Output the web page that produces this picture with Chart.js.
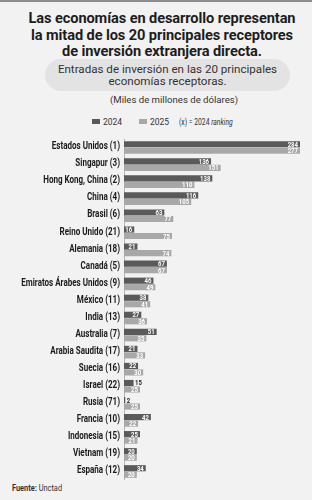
<!DOCTYPE html>
<html>
<head>
<meta charset="utf-8">
<script src="https://cdn.jsdelivr.net/npm/chart.js@4.4.1/dist/chart.umd.min.js"></script>
<style>
  html, body { margin: 0; padding: 0; }
  body {
    width: 312px; height: 500px; background: #f2f2f2; position: relative; overflow: hidden;
    font-family: Roboto, "Liberation Sans", sans-serif; color: #1d1d1d;
    border-top: 2px solid #8c8c8c; box-sizing: border-box;
  }
  .title {
    position: absolute; top: 8px; left: 0; width: 324px; text-align: center;
    font-weight: 700; font-size: 14.6px; line-height: 16.5px; letter-spacing: -0.1px;
  }
  .pill {
    position: absolute; left: 45px; top: 57px; width: 245px; height: 32px;
    background: #e3e3e3; border-radius: 16px; text-align: center;
    font-size: 11.6px; line-height: 11.5px; color: #333; padding-top: 5px; box-sizing: border-box;
  }
  .units {
    position: absolute; top: 92px; left: 110px; white-space: nowrap;
    font-size: 9.6px; color: #333;
  }
  .legend { position: absolute; top: 115px; left: 0; width: 312px; font-size: 8.5px; color: #333; }
  .legend span { position: absolute; white-space: nowrap; }
  .sw { display: inline-block; width: 8px; height: 5px; margin-right: 3px; vertical-align: 1px; }
  .cond { transform: scaleX(0.8); transform-origin: left center; }
  #wrap { position: absolute; left: 0; top: 137px; width: 312px; height: 341px; }
  .source { position: absolute; left: 12px; top: 481px; font-size: 8.5px; color: #333;
    transform: scaleX(0.87); transform-origin: left center; white-space: nowrap; }
</style>
</head>
<body>
<div class="title">Las economías en desarrollo representan<br>la mitad de los 20 principales receptores<br>de inversión extranjera directa.</div>
<div class="pill">Entradas de inversión en las 20 principales<br>economías receptoras.</div>
<div class="units">(Miles de millones de dólares)</div>
<div class="legend">
  <span style="left:92px"><i class="sw" style="background:#5a5a5a"></i>2024</span>
  <span style="left:139px"><i class="sw" style="background:#a8a8a8"></i>2025</span>
  <span class="cond" style="left:179px">(x) = 2024 <i>ranking</i></span>
</div>
<div id="wrap"><canvas id="chart"></canvas></div>
<div class="source"><b>Fuente:</b> Unctad</div>

<script>
const countries = [
  "Estados Unidos (1)", "Singapur (3)", "Hong Kong, China (2)", "China (4)", "Brasil (6)",
  "Reino Unido (21)", "Alemania (18)", "Canadá (5)", "Emiratos Árabes Unidos (9)", "México (11)",
  "India (13)", "Australia (7)", "Arabia Saudita (17)", "Suecia (16)", "Israel (22)",
  "Rusia (71)", "Francia (10)", "Indonesia (15)", "Vietnam (19)", "España (12)"
];
const inflows2024 = [284, 136, 138, 116, 63, 16, 21, 67, 46, 38, 27, 51, 21, 22, 15, 2, 42, 25, 20, 34];
const inflows2025 = [277, 151, 110, 105, 77, 75, 74, 67, 49, 41, 36, 35, 33, 30, 25, 25, 22, 21, 20, 20];

// condensed text: draw with a horizontal squeeze
function squeezed(ctx, txt, x, y, sx) {
  ctx.save();
  ctx.translate(x, y);
  ctx.scale(sx, 1);
  ctx.fillText(txt, 0, 0);
  ctx.restore();
}

// country names next to the axis, at the category scale positions
const categoryLabels = {
  id: "categoryLabels",
  afterDraw(chart) {
    const ctx = chart.ctx, y = chart.scales.y;
    ctx.save();
    ctx.font = "bold 11px Roboto";
    ctx.fillStyle = "#1a1a1a";
    ctx.textAlign = "right";
    ctx.textBaseline = "middle";
    chart.data.labels.forEach((lab, i) => {
      squeezed(ctx, lab, y.right - 4, y.getPixelForTick(i) - 1, 0.73);
    });
    ctx.restore();
  }
};

// value labels at the end of each bar
const barLabels = {
  id: "barLabels",
  afterDatasetsDraw(chart) {
    const ctx = chart.ctx;
    ctx.save();
    ctx.font = "bold 8px Roboto";
    ctx.textBaseline = "middle";
    chart.data.datasets.forEach((ds, i) => {
      chart.getDatasetMeta(i).data.forEach((bar, j) => {
        const txt = String(ds.data[j]);
        const w = ctx.measureText(txt).width * 0.75;
        const right = Math.min(bar.x, chart.chartArea.right);
        if (right - bar.base > w + 3) {
          ctx.fillStyle = "#fff";
          ctx.textAlign = "right";
          squeezed(ctx, txt, right - 2, bar.y + 0.5, 0.75);
        } else {
          ctx.fillStyle = "#222";
          ctx.textAlign = "left";
          squeezed(ctx, txt, right + 1.5, bar.y + 0.5, 0.75);
        }
      });
    });
    ctx.restore();
  }
};

new Chart(document.getElementById("chart"), {
  type: "bar",
  data: {
    labels: countries,
    datasets: [
      { label: "2024", data: inflows2024, backgroundColor: "#5a5a5a" },
      { label: "2025", data: inflows2025, backgroundColor: "#a8a8a8" }
    ]
  },
  options: {
    indexAxis: "y",
    responsive: true,
    maintainAspectRatio: false,
    animation: false,
    categoryPercentage: 0.76,
    barPercentage: 0.95,
    layout: { padding: { top: 0, bottom: 0, left: 0, right: 12 } },
    plugins: { legend: { display: false }, tooltip: { enabled: false } },
    scales: {
      x: { display: false, min: 0, max: 275 },
      y: {
        afterFit: (s) => { s.width = 124; },
        grid: { display: false },
        border: { display: true, color: "#b5b5b5", width: 1 },
        ticks: { display: false }
      }
    }
  },
  plugins: [barLabels, categoryLabels]
});
</script>
</body>
</html>
